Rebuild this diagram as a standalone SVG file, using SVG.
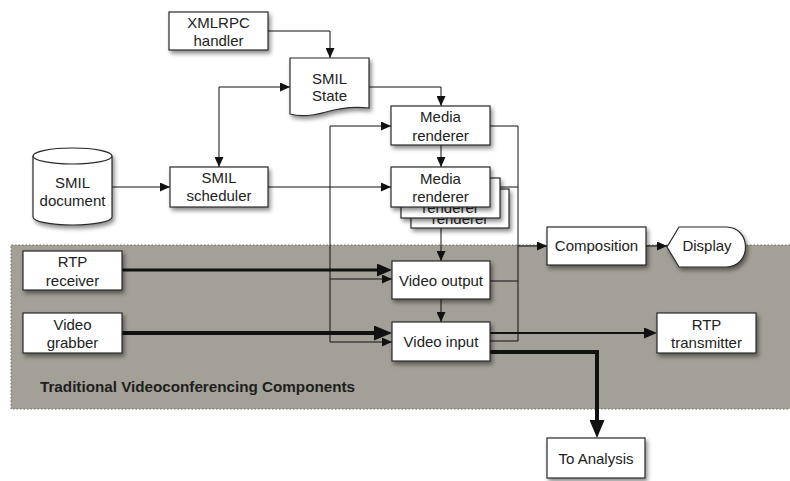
<svg xmlns="http://www.w3.org/2000/svg" width="790" height="481" viewBox="0 0 790 481">
<defs>
<filter id="sh" x="-20%" y="-20%" width="150%" height="160%">
<feDropShadow dx="2" dy="3" stdDeviation="2" flood-color="#000" flood-opacity="0.45"/>
</filter>
<marker id="a1" markerUnits="userSpaceOnUse" markerWidth="11" markerHeight="9" refX="10" refY="4.5" orient="auto-start-reverse"><path d="M0,0 L10,4.5 L0,9 z" fill="#111"/></marker>
<marker id="a2" markerUnits="userSpaceOnUse" markerWidth="13" markerHeight="11" refX="9" refY="5.5" orient="auto"><path d="M0,0 L13,5.5 L0,11 z" fill="#111"/></marker>
<marker id="a3" markerUnits="userSpaceOnUse" markerWidth="15" markerHeight="13" refX="10" refY="6.5" orient="auto"><path d="M0,0 L15,6.5 L0,13 z" fill="#111"/></marker>
<marker id="a4" markerUnits="userSpaceOnUse" markerWidth="18" markerHeight="15" refX="12" refY="7.5" orient="auto"><path d="M0,0 L18,7.5 L0,15 z" fill="#111"/></marker>
</defs>
<style>
.box{fill:#fff;stroke:#2a2a2a;stroke-width:1.2;filter:url(#sh)}
.t{font-family:"Liberation Sans",Arial,sans-serif;font-size:15px;fill:#222;text-anchor:middle}
.c{fill:none;stroke:#111;stroke-width:1}
.c.w2{stroke-width:2}
.c.w3{stroke-width:3}
.c.w4{stroke-width:4}
.region{fill:#a3a097}
.dot{fill:none;stroke:#6a6a66;stroke-width:1;stroke-dasharray:1.5,2}
</style>
<rect width="790" height="481" fill="#fff"/>
<g id="region">
<rect class="region" x="11" y="245" width="790" height="164"/>
<path class="dot" d="M790,245 H11 V409 H790"/>
<text x="40" y="392" font-family="'Liberation Sans',Arial,sans-serif" font-size="15" font-weight="bold" fill="#1e1e1e" textLength="315" lengthAdjust="spacingAndGlyphs">Traditional Videoconferencing Components</text>
</g>
<g id="connectors">
<path class="c" d="M268,31 H330 V58" marker-end="url(#a1)"/>
<path class="c" d="M219,167 V87 H290" marker-start="url(#a1)" marker-end="url(#a1)"/>
<path class="c" d="M369,87 H441 V106" marker-end="url(#a1)"/>
<path class="c" d="M441,145 V167" marker-end="url(#a1)"/>
<path class="c" d="M112,187 H170" marker-end="url(#a1)"/>
<path class="c" d="M268,187 H391" marker-end="url(#a1)"/>
<path class="c" d="M330,187 V126 H391" marker-end="url(#a1)"/>
<path class="c" d="M330,187 V279 H392" marker-end="url(#a1)"/>
<path class="c" d="M330,279 V342 H392" marker-end="url(#a1)"/>
<path class="c" d="M441,228 V261" marker-end="url(#a1)"/>
<path class="c" d="M441,299 V322" marker-end="url(#a1)"/>
<path class="c" d="M490,126 H518 V341 H490"/>
<path class="c" d="M490,187 H518"/>
<path class="c" d="M490,281 H518"/>
<path class="c" d="M518,246 H547" marker-end="url(#a1)"/>
<path class="c" d="M646,246 H667" marker-end="url(#a1)"/>
<path class="c w3" d="M122,270 H387" marker-end="url(#a3)"/>
<path class="c w4" d="M122,333 H386" marker-end="url(#a4)"/>
<path class="c w2" d="M490,333 H653" marker-end="url(#a2)"/>
<path class="c w4" d="M490,352 H597 V432" marker-end="url(#a4)"/>
</g>
<g id="xmlrpc"><rect class="box" x="169" y="12" width="99" height="38"/><text class="t" x="218.5" y="28">XMLRPC</text><text class="t" x="218.5" y="46">handler</text></g>
<g id="smilstate"><path class="box" d="M290,58 H369 V108 C352,106 340,108 326,112 C312,116 300,117 290,114 Z"/><text class="t" x="329.5" y="84">SMIL</text><text class="t" x="329.5" y="101">State</text></g>
<g id="smildoc"><path class="box" d="M33,156 A39.5,8 0 0 1 112,156 V217 A39.5,8 0 0 1 33,217 Z"/><path d="M33,156 A39.5,8 0 0 0 112,156" fill="none" stroke="#2a2a2a" stroke-width="1.2"/><text class="t" x="72.5" y="188">SMIL</text><text class="t" x="72.5" y="206">document</text></g>
<g id="scheduler"><rect class="box" x="170" y="167" width="98" height="40"/><text class="t" x="219" y="183">SMIL</text><text class="t" x="219" y="201">scheduler</text></g>
<g id="mr1"><rect class="box" x="391" y="106" width="99" height="39"/><text class="t" x="440.5" y="122">Media</text><text class="t" x="440.5" y="141">renderer</text></g>
<g id="mr-stack">
<rect class="box" x="411" y="189" width="98" height="39"/><text class="t" x="460" y="224">renderer</text>
<rect class="box" x="401" y="178" width="99" height="40"/><text class="t" x="450.5" y="213">renderer</text>
<rect class="box" x="391" y="167" width="99" height="40"/><text class="t" x="440.5" y="184">Media</text><text class="t" x="440.5" y="202">renderer</text>
</g>
<g id="videooutput"><rect class="box" x="392" y="261" width="98" height="38"/><text class="t" x="441" y="285.5">Video output</text></g>
<g id="videoinput"><rect class="box" x="392" y="322" width="98" height="39"/><text class="t" x="441" y="347">Video input</text></g>
<g id="composition"><rect class="box" x="547" y="227" width="99" height="38"/><text class="t" x="596.5" y="251">Composition</text></g>
<g id="display"><path class="box" d="M667,247 L679,227 H726 C752,227 752,267 726,267 H679 Z"/><text class="t" x="707" y="251">Display</text></g>
<g id="rtpreceiver"><rect class="box" x="23" y="251" width="99" height="39"/><text class="t" x="72.5" y="267">RTP</text><text class="t" x="72.5" y="286">receiver</text></g>
<g id="videograbber"><rect class="box" x="23" y="313" width="99" height="40"/><text class="t" x="72.5" y="330">Video</text><text class="t" x="72.5" y="348">grabber</text></g>
<g id="rtptransmitter"><rect class="box" x="657" y="313" width="99" height="40"/><text class="t" x="706.5" y="330">RTP</text><text class="t" x="706.5" y="348">transmitter</text></g>
<g id="toanalysis"><rect class="box" x="547" y="438" width="98" height="40"/><text class="t" x="596" y="464">To Analysis</text></g>
</svg>
